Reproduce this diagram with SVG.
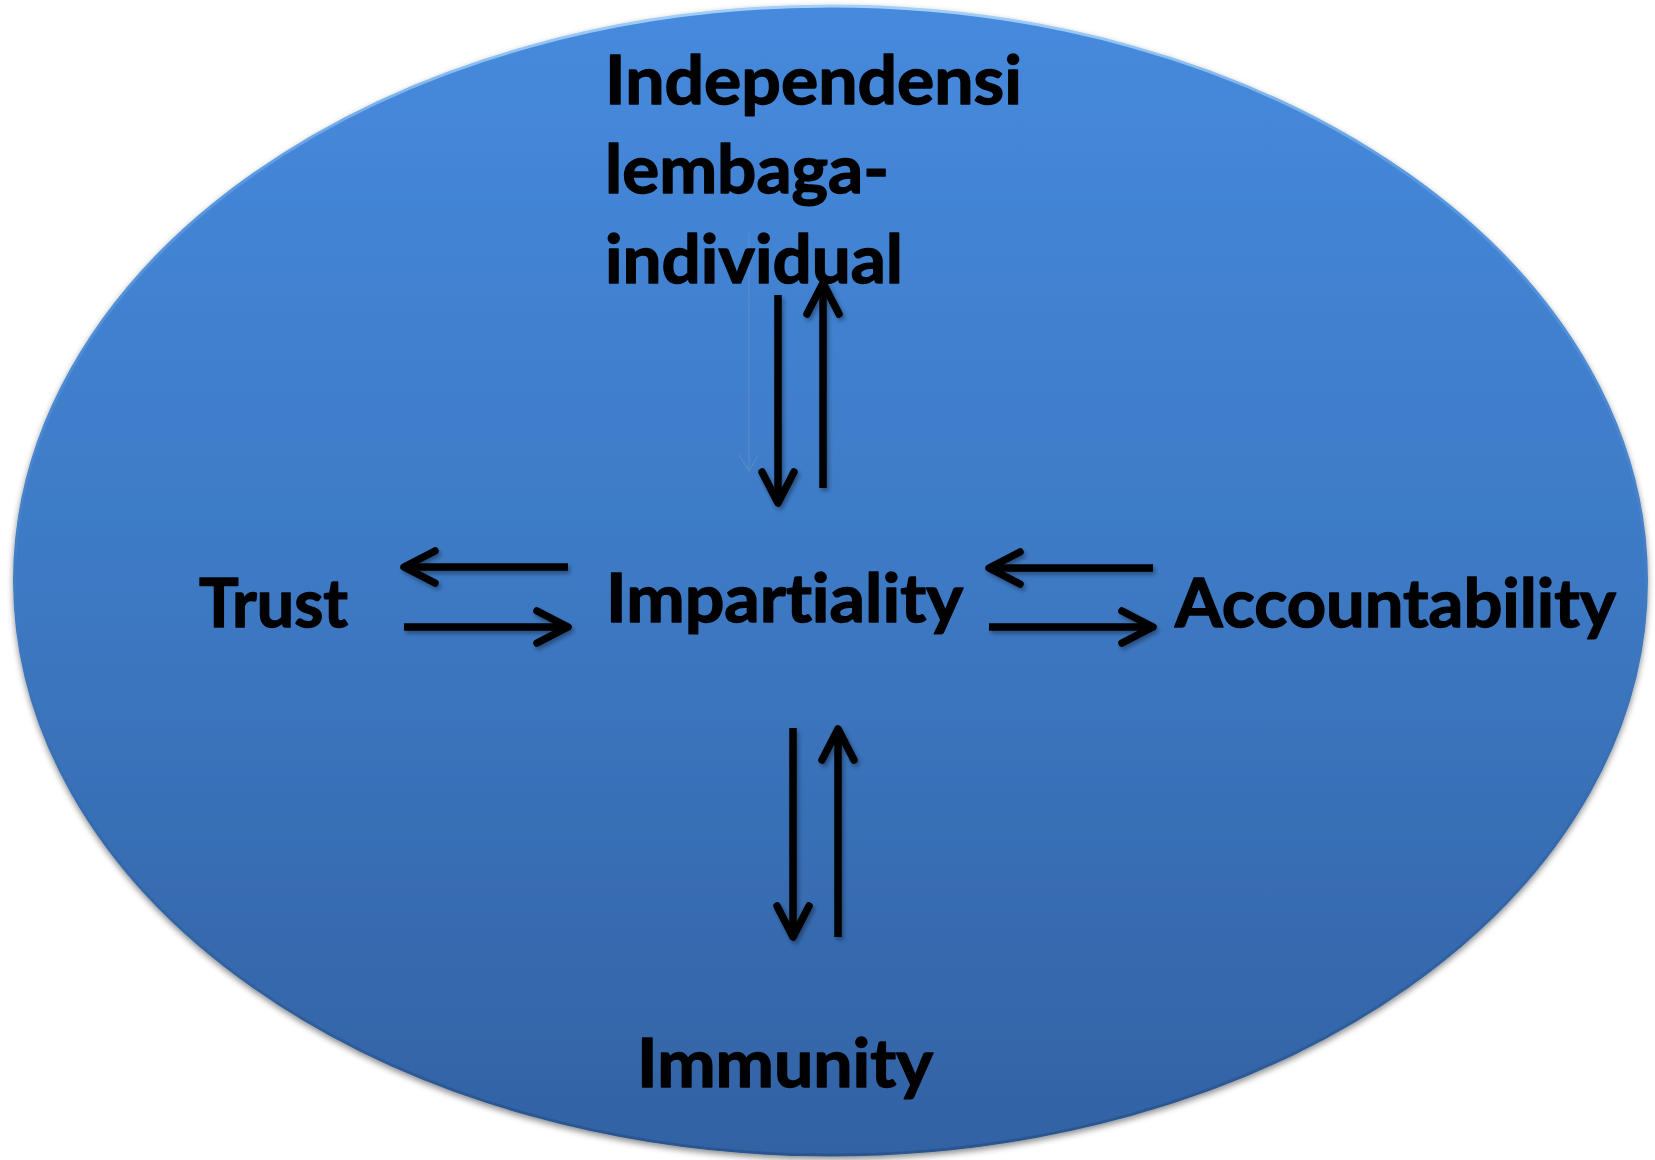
<svg xmlns="http://www.w3.org/2000/svg" width="1655" height="1160" viewBox="0 0 1655 1160">
  <defs>
    <linearGradient id="fillG" x1="0" y1="0" x2="0" y2="1">
      <stop offset="0" stop-color="#468ADD"/>
      <stop offset="0.5" stop-color="#3D79C4"/>
      <stop offset="1" stop-color="#3262A3"/>
    </linearGradient>
    <linearGradient id="edgeG" x1="0" y1="0" x2="0" y2="1">
      <stop offset="0" stop-color="#A4D0F8"/>
      <stop offset="0.15" stop-color="#5A9AE2"/>
      <stop offset="0.6" stop-color="#3B73BA"/>
      <stop offset="1" stop-color="#2A548E"/>
    </linearGradient>
    <filter id="shadow" x="-5%" y="-5%" width="110%" height="112%">
      <feDropShadow dx="0" dy="3" stdDeviation="3" flood-color="#000" flood-opacity="0.45"/>
    </filter>
    <filter id="arrowShadow" x="-20%" y="-20%" width="140%" height="140%">
      <feDropShadow dx="2" dy="3" stdDeviation="2" flood-color="#000" flood-opacity="0.35"/>
    </filter>
    <marker id="ah" viewBox="0 0 44 44" refX="38" refY="22" markerUnits="userSpaceOnUse" markerWidth="44" markerHeight="44" orient="auto">
      <path d="M7,6 L38,22 L7,38" fill="none" stroke="#000" stroke-width="7.5" stroke-linecap="round" stroke-linejoin="round"/>
    </marker>
  </defs>
  <style>
    .lbl { font-family: "Lato", "Open Sans", "Liberation Sans", sans-serif; font-weight: bold; font-size: 67px; fill: #000; stroke: #000; stroke-width: 1.4; stroke-linejoin: round; font-variant-ligatures: none; font-feature-settings: "liga" 0, "clig" 0; }
    .conn { fill: none; stroke: #000; stroke-width: 7.5; stroke-linecap: butt; marker-end: url(#ah); }
  </style>

  <g id="background">
    <ellipse cx="830.5" cy="580.5" rx="816" ry="574.5" fill="url(#fillG)" stroke="url(#edgeG)" stroke-width="3" filter="url(#shadow)"/>
  </g>

  <g id="connectors" filter="url(#arrowShadow)">
    <path class="conn" d="M568,567 L404,567"/>
    <path class="conn" d="M404,627 L568,627"/>
    <path class="conn" d="M1153,568 L989,568"/>
    <path class="conn" d="M989,627 L1153,627"/>
    <path class="conn" d="M778,295 L778,503"/>
    <path class="conn" d="M823,488 L823,283"/>
    <path class="conn" d="M793,728 L793,937"/>
    <path class="conn" d="M838,937 L838,729"/>
  </g>
  <g id="ghost" opacity="0.25" fill="none" stroke="#8aa6c8" stroke-width="1.5">
    <path d="M749,233 L749,471 M739,455 L749,471 L758,455"/>
  </g>

  <g id="node-independensi">
    <text class="lbl" x="605" y="104" textLength="417" lengthAdjust="spacingAndGlyphs">Independensi</text>
    <text class="lbl" x="605" y="193" textLength="284" lengthAdjust="spacingAndGlyphs">lembaga-</text>
    <text class="lbl" x="605" y="283" textLength="298" lengthAdjust="spacingAndGlyphs">individual</text>
  </g>
  <g id="node-trust">
    <text class="lbl" x="199" y="627" textLength="149" lengthAdjust="spacingAndGlyphs">Trust</text>
  </g>
  <g id="node-impartiality">
    <text class="lbl" x="606" y="622" textLength="357" lengthAdjust="spacingAndGlyphs">Impartiality</text>
  </g>
  <g id="node-accountability">
    <text class="lbl" x="1175" y="627" textLength="441" lengthAdjust="spacingAndGlyphs">Accountability</text>
  </g>
  <g id="node-immunity">
    <text class="lbl" x="637" y="1087" textLength="296" lengthAdjust="spacingAndGlyphs">Immunity</text>
  </g>
</svg>
